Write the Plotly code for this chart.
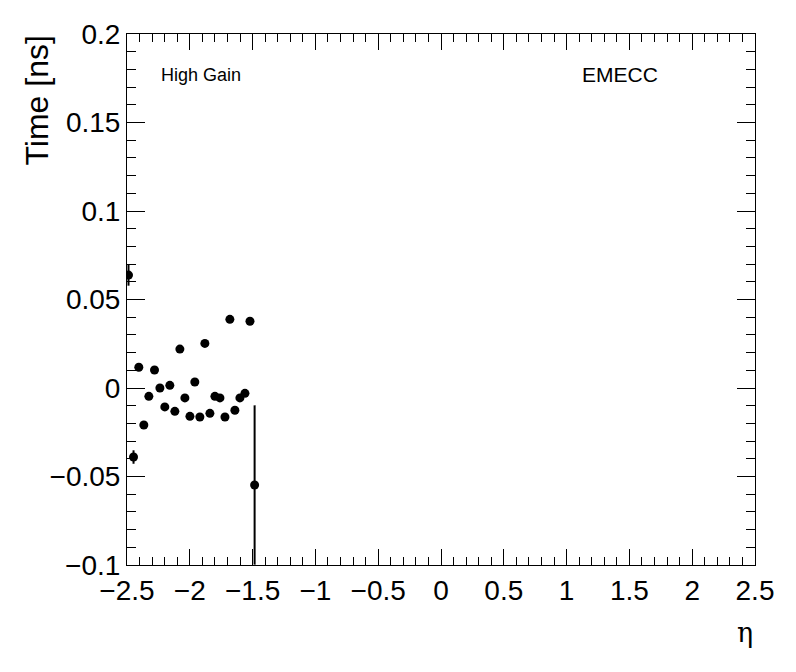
import plotly.graph_objects as go

eta = [-2.488, -2.448, -2.406, -2.366, -2.326, -2.281, -2.238, -2.199, -2.159,
       -2.119, -2.079, -2.039, -1.999, -1.960, -1.920, -1.880, -1.840, -1.800,
       -1.760, -1.720, -1.681, -1.641, -1.601, -1.561, -1.521, -1.484]
time_ns = [0.0638, -0.0390, 0.0117, -0.0209, -0.0047, 0.0102, 0.0000, -0.0107,
           0.0015, -0.0132, 0.0220, -0.0056, -0.0160, 0.0034, -0.0164, 0.0252,
           -0.0143, -0.0047, -0.0056, -0.0164, 0.0388, -0.0126, -0.0056, -0.0030,
           0.0377, -0.0548]
err = [0.006, 0.0038, 0, 0, 0, 0, 0, 0, 0, 0, 0, 0, 0, 0, 0, 0, 0, 0, 0, 0,
       0, 0, 0, 0, 0, 0.045]

xticks = [-2.5, -2, -1.5, -1, -0.5, 0, 0.5, 1, 1.5, 2, 2.5]
yticks = [-0.1, -0.05, 0, 0.05, 0.1, 0.15, 0.2]

FONT = "Liberation Sans, Arial, Helvetica, sans-serif"
SERIF = "DejaVu Serif, Liberation Serif, serif"


def lab(v):
    return ("\u2212" if v < 0 else "") + f"{abs(v):g}"


fig = go.Figure()
fig.add_trace(go.Scatter(
    x=eta, y=time_ns, mode="markers",
    marker=dict(color="black", size=9, symbol="circle"),
    error_y=dict(type="data", array=err, visible=True, color="black",
                 thickness=2, width=0),
    showlegend=False,
))

axis_common = dict(
    showgrid=False, zeroline=False, showline=True, linecolor="black",
    linewidth=1, mirror="allticks", ticks="inside", tickcolor="black",
    tickfont=dict(family=FONT, size=28, color="black"),
)

fig.update_layout(
    width=796, height=672,
    margin=dict(l=119, r=49, t=26, b=115),
    paper_bgcolor="white", plot_bgcolor="white",
    xaxis=dict(range=[-2.5, 2.5], tickvals=xticks,
               ticktext=[lab(v) for v in xticks],
               ticklen=16,
               minor=dict(dtick=0.1, ticks="inside", ticklen=8, tickcolor="black",
                          showgrid=False),
               **axis_common),
    yaxis=dict(range=[-0.1, 0.2], tickvals=yticks,
               ticktext=[lab(v) for v in yticks],
               ticklen=18,
               minor=dict(dtick=0.01, ticks="inside", ticklen=9, tickcolor="black",
                          showgrid=False),
               **axis_common),
    font=dict(family=FONT, color="black"),
)

fig.add_annotation(text="Time [ns]", xref="paper", yref="paper",
                   x=-0.144, y=1.0, xanchor="center", yanchor="top",
                   textangle=-90, showarrow=False,
                   font=dict(family=FONT, size=32, color="black"))
fig.add_annotation(text="\u03b7", xref="paper", yref="paper",
                   x=0.984, y=-0.128, xanchor="center", yanchor="middle",
                   showarrow=False, font=dict(family=SERIF, size=27, color="black"))
fig.add_annotation(text="High Gain", xref="paper", yref="paper",
                   x=0.0517, y=0.9233,
                   xanchor="left", yanchor="middle", showarrow=False,
                   font=dict(family=FONT, size=18, color="black"))
fig.add_annotation(text="EMECC", xref="paper", yref="paper",
                   x=0.7216, y=0.9233,
                   xanchor="left", yanchor="middle", showarrow=False,
                   font=dict(family=FONT, size=21, color="black"))

fig.write_html("out.html")
